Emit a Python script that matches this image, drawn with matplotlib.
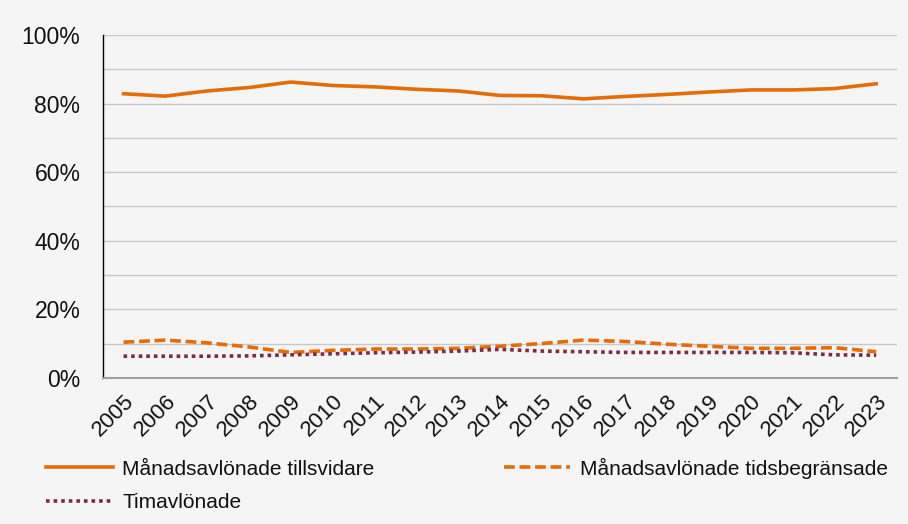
import numpy as np
import matplotlib.pyplot as plt
from matplotlib.ticker import MultipleLocator, FuncFormatter

plt.rcParams['font.family'] = ['Liberation Sans', 'DejaVu Sans']

years = [str(y) for y in range(2005, 2024)]

tillsvidare = [82.9, 82.2, 83.7, 84.7, 86.3, 85.3, 84.9, 84.2, 83.7, 82.4,
               82.3, 81.4, 82.1, 82.7, 83.4, 84.0, 84.0, 84.4, 85.8]
tidsbegransade = [10.4, 11.0, 10.2, 9.0, 7.4, 8.0, 8.4, 8.4, 8.6, 9.2,
                  10.0, 11.0, 10.6, 9.8, 9.2, 8.6, 8.6, 8.8, 7.6]
timavlonade = [6.3, 6.3, 6.3, 6.4, 6.7, 7.0, 7.3, 7.5, 7.8, 8.3,
               7.8, 7.6, 7.4, 7.4, 7.4, 7.4, 7.3, 6.7, 6.6]

labels = ['Månadsavlönade tillsvidare', 'Månadsavlönade tidsbegränsade', 'Timavlönade']

orange = '#e46c0a'
maroon = '#7b2c45'
bg = '#f5f5f5'

fig = plt.figure(figsize=(9.08, 5.24), dpi=100, facecolor=bg)
ax = fig.add_axes([0.113, 0.279, 0.875, 0.654], facecolor=bg)

x = np.arange(len(years))
l1, = ax.plot(x, tillsvidare, color=orange, lw=2.6, solid_joinstyle='round')
l2, = ax.plot(x, tidsbegransade, color=orange, lw=2.6, linestyle=(0, (3.0, 1.3)))
l3, = ax.plot(x, timavlonade, color=maroon, lw=2.6, linestyle=(0, (1, 1.1)))

ax.set_xlim(-0.5, len(years) - 0.5)
ax.set_ylim(0, 100)
ax.yaxis.set_major_locator(MultipleLocator(20))
ax.yaxis.set_minor_locator(MultipleLocator(10))
ax.yaxis.set_major_formatter(FuncFormatter(lambda v, p: f'{v:.0f}%'))
ax.grid(axis='y', which='both', color='#c8c8c8', lw=1)
ax.set_axisbelow(True)

ax.set_xticks(x)
ax.set_xticklabels(years, rotation=45, ha='right', rotation_mode='anchor')
ax.tick_params(axis='x', length=0, pad=9, labelsize=16, labelcolor='#111111')
ax.tick_params(axis='y', which='both', length=0, pad=16, labelsize=16.5, labelcolor='#111111')

for s in ['top', 'right']:
    ax.spines[s].set_visible(False)
ax.spines['left'].set_color('black')
ax.spines['left'].set_linewidth(1)
ax.spines['bottom'].set_color('#a0a0a0')
ax.spines['bottom'].set_linewidth(1.5)

# row-wise order: tillsvidare, tidsbegränsade / timavlönade
leg = fig.legend([l1, l3, l2], [labels[0], labels[2], labels[1]], loc='upper left',
                 bbox_to_anchor=(0.051, 0.127), ncol=2, frameon=False, fontsize=15,
                 handlelength=3.2, handletextpad=0.45, columnspacing=6.2,
                 labelspacing=0.7, borderpad=0, borderaxespad=0)
for t in leg.get_texts():
    t.set_color('#111111')

fig.savefig('out.png', dpi=100, facecolor=bg)
